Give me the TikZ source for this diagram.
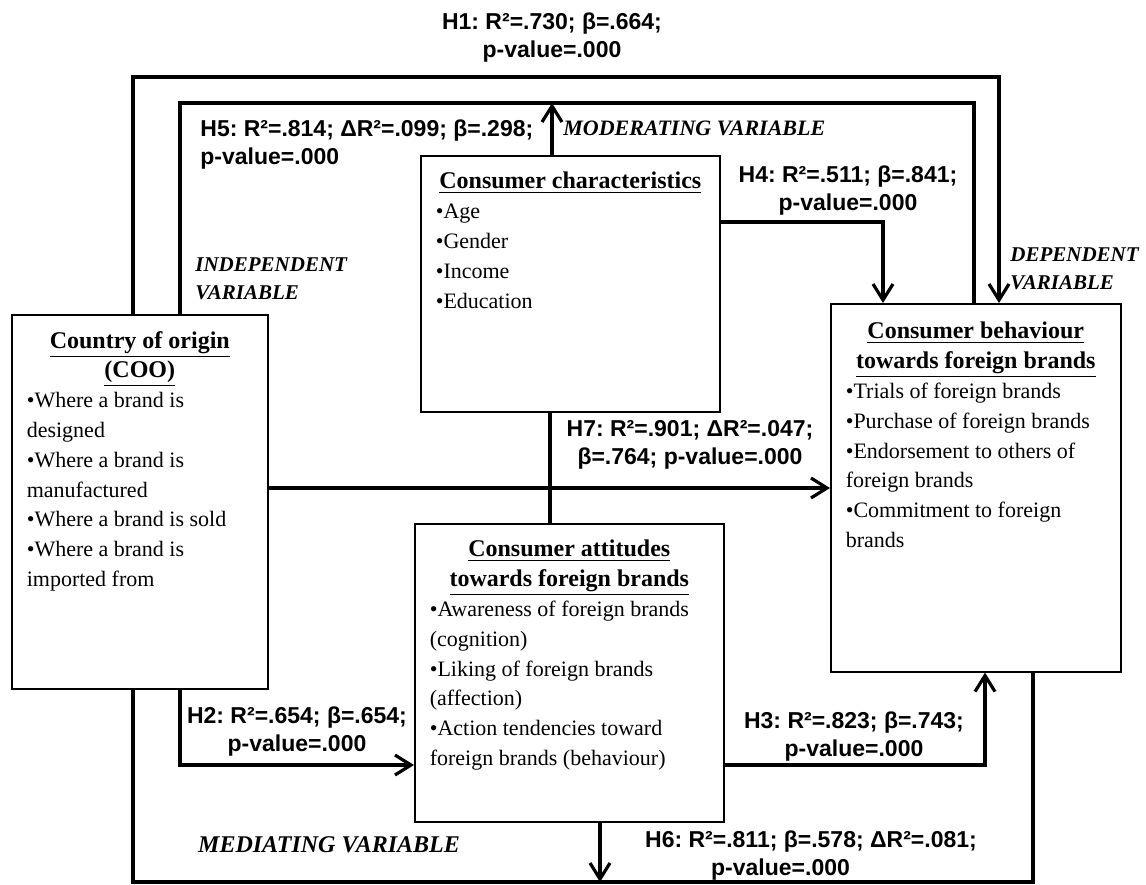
\documentclass[tikz,border=0pt]{standalone}
\usepackage{fontspec}
\setmainfont{Liberation Serif}
\setsansfont{Liberation Sans}
\usetikzlibrary{arrows.meta}
\frenchspacing

% box content: height, width, top skip, text
\newcommand{\boxtext}[4]{%
  \begin{minipage}[c][#1][t]{#2}\fontsize{11}{14.9}\selectfont
  \vspace*{#3}#4\end{minipage}}
\newcommand{\varhead}[1]{{\centering\fontsize{12}{14.9}\selectfont\bfseries #1\par}}
\newcommand{\varitems}{\raggedright\leftskip=7.5pt }

\begin{document}
\begin{tikzpicture}[%
  x=0.5pt, y=-0.5pt,
  >={Straight Barb[length=8pt,width=10pt]},
  varbox/.style={draw, line width=0.8pt, inner sep=0pt, anchor=north west},
  hyp/.style={font=\fontsize{11.5}{14}\selectfont\sffamily\bfseries, align=center, inner sep=0pt},
  role/.style={font=\fontsize{11}{14}\selectfont\bfseries\itshape, inner sep=0pt},
  link/.style={line width=1.6pt},
]

  \useasboundingbox (0,0) rectangle (1146,884);

  % the four variables
  \node[varbox] (coo) at (11,314) {\boxtext{187pt}{128pt}{8.2pt}{%
    \varhead{\underline{Country of origin}\\\underline{(COO)}}%
    \varitems •Where a brand is\\designed\\•Where a brand is\\manufactured\\%
    •Where a brand is sold\\•Where a brand is\\imported from}};

  \node[varbox] (cc) at (420,155) {\boxtext{128pt}{149.5pt}{8.2pt}{%
    \varhead{\underline{Consumer characteristics}}%
    \varitems •Age\\•Gender\\•Income\\•Education}};

  \node[varbox] (ca) at (414,523) {\boxtext{149pt}{154.5pt}{8.2pt}{%
    \varhead{\underline{Consumer attitudes}\\\underline{towards foreign brands}}%
    \varitems •Awareness of foreign brands\\(cognition)\\•Liking of foreign brands\\%
    (affection)\\•Action tendencies toward\\foreign brands (behaviour)}};

  \node[varbox] (cb) at (830,303) {\boxtext{184pt}{145pt}{9.2pt}{%
    \varhead{\underline{Consumer behaviour}\\\underline{towards foreign brands}}%
    \varitems •Trials of foreign brands\\•Purchase of foreign brands\\%
    •Endorsement to others of\\foreign brands\\•Commitment to foreign\\brands}};

  % corners of the paths
  \coordinate (h1l) at (133,77);
  \coordinate (h1r) at (999,77);
  \coordinate (h5l) at (180,103);
  \coordinate (h5r) at (974,103);
  \coordinate (mod) at (552,103);
  \coordinate (h4) at (883,222);
  \coordinate (h7) at (550,488);
  \coordinate (h2) at (180,765);
  \coordinate (h3) at (985,765);
  \coordinate (h6l) at (133,882);
  \coordinate (h6r) at (1033,882);
  \coordinate (h6) at (600,882);

  \draw[link,->] (h1l |- coo.north) -- (h1l) -- (h1r) -- (h1r |- cb.north);
  \draw[link] (h5l |- coo.north) -- (h5l) -- (h5r) -- (h5r |- cb.north);
  \draw[link,->] (mod |- cc.north) -- (mod);
  \draw[link,->] (cc.east |- h4) -- (h4) -- (h4 |- cb.north);
  \draw[link,->] (coo.east |- h7) -- (cb.west |- h7);
  \draw[link] (h7 |- cc.south) -- (h7 |- ca.north);
  \draw[link,->] (h2 |- coo.south) -- (h2) -- (ca.west |- h2);
  \draw[link,->] (ca.east |- h3) -- (h3) -- (h3 |- cb.south);
  \draw[link] (h6l |- coo.south) -- (h6l) -- (h6r) -- (h6r |- cb.south);
  \draw[link,->] (h6 |- ca.south) -- (h6);

  % hypotheses
  \node[hyp] (h1lab) at (552,38) {H1: R²=.730; β=.664;\\p-value=.000};
  \node[hyp, align=left, anchor=west] (h5lab) at (200,145) {H5: R²=.814; ΔR²=.099; β=.298;\\p-value=.000};
  \node[hyp] (h4lab) at (848,191) {H4: R²=.511; β=.841;\\p-value=.000};
  \node[hyp] (h7lab) at (690,445) {H7: R²=.901; ΔR²=.047;\\β=.764; p-value=.000};
  \node[hyp] (h2lab) at (297,732) {H2: R²=.654; β=.654;\\p-value=.000};
  \node[hyp] (h3lab) at (854,737) {H3: R²=.823; β=.743;\\p-value=.000};
  \node[hyp, align=left] (h6lab) at (811,856) {H6: R²=.811; β=.578; ΔR²=.081;\\\hspace*{33pt}p-value=.000};

  % roles
  \node[role, anchor=base west] (modlab) at (563,135) {MODERATING VARIABLE};
  \node[role, font=\fontsize{10.5}{14}\selectfont\bfseries\itshape, align=left, anchor=north west] (indlab) at (195,257) {INDEPENDENT\\VARIABLE};
  \node[role, font=\fontsize{10.5}{14}\selectfont\bfseries\itshape, align=left, anchor=north west] (deplab) at (1010,247) {DEPENDENT\\VARIABLE};
  \node[role, font=\fontsize{12}{14}\selectfont\bfseries\itshape] (medlab) at (329,845) {MEDIATING VARIABLE};

\end{tikzpicture}
\end{document}
